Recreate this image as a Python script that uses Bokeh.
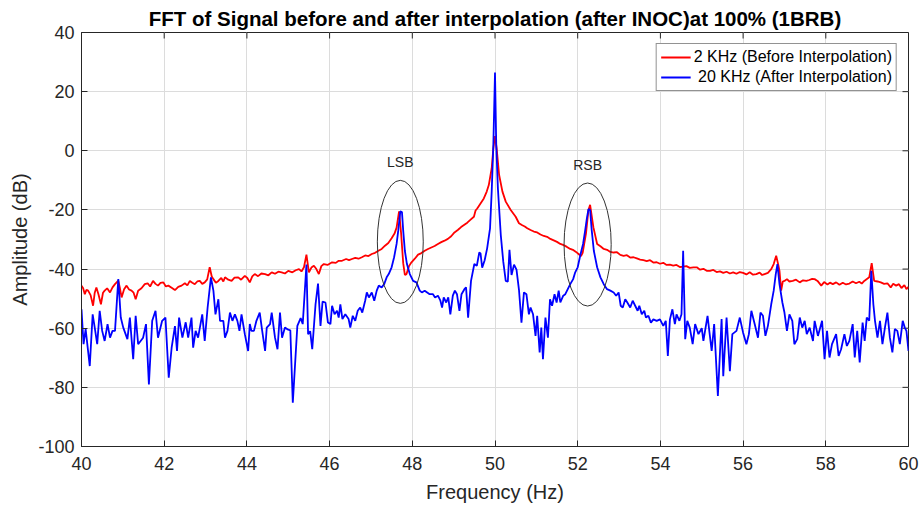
from bokeh.plotting import figure
from bokeh.models import (FixedTicker, LinearAxis, Range1d, Label, Legend, LegendItem)
from bokeh.embed import file_html
from bokeh.resources import INLINE

# ---------------- data ----------------
blue_f = [40.00, 40.05, 40.10, 40.20, 40.27, 40.32, 40.38, 40.44, 40.50, 40.56, 40.63, 40.69, 40.75, 40.81, 40.89,
          40.95, 41.01, 41.11, 41.17, 41.25, 41.31, 41.37, 41.49, 41.56, 41.63, 41.71, 41.79, 41.85, 41.95,
          42.03, 42.11, 42.18, 42.26, 42.31, 42.36, 42.44, 42.52, 42.58, 42.66, 42.70, 42.76, 42.82, 42.92, 42.98,
          43.05, 43.13, 43.19, 43.24, 43.31, 43.35, 43.43, 43.47, 43.53, 43.59, 43.65, 43.71, 43.77, 43.82, 43.87, 43.95,
          44.03, 44.07, 44.11, 44.17, 44.23, 44.31, 44.37, 44.44, 44.48, 44.56, 44.60, 44.68, 44.74, 44.80, 44.85, 44.92,
          45.00, 45.05, 45.11, 45.22, 45.30, 45.35, 45.44, 45.48, 45.53, 45.58, 45.66, 45.72, 45.78, 45.83, 45.90, 45.96,
          46.02, 46.06, 46.12, 46.18, 46.22, 46.26, 46.31, 46.38, 46.46, 46.50, 46.56, 46.62, 46.68, 46.74, 46.79, 46.86,
          46.90, 46.95, 47.02, 47.08, 47.14, 47.19, 47.26, 47.32, 47.38, 47.43, 47.50, 47.56, 47.62, 47.66, 47.71, 47.75,
          47.78, 47.82, 47.87, 47.94, 48.02, 48.10, 48.18, 48.23, 48.30, 48.36, 48.42, 48.50, 48.55, 48.62, 48.68, 48.72,
          48.76, 48.82, 48.87, 48.92, 48.98, 49.03, 49.08, 49.14, 49.19, 49.26, 49.30, 49.35, 49.42, 49.50, 49.56, 49.62,
          49.65, 49.69, 49.75, 49.81, 49.88, 49.92, 49.96, 50.00, 50.03, 50.07, 50.14, 50.20, 50.26, 50.31, 50.35, 50.40,
          50.46, 50.52, 50.58, 50.64, 50.70, 50.76, 50.82, 50.86, 50.92, 50.98, 51.02, 51.08, 51.12, 51.16, 51.22, 51.28,
          51.33, 51.38, 51.44, 51.49, 51.54, 51.58, 51.65, 51.70, 51.76, 51.82, 51.89, 51.94, 52.00, 52.06, 52.13, 52.18,
          52.22, 52.26, 52.30, 52.34, 52.39, 52.47, 52.55, 52.63, 52.71, 52.79, 52.87, 52.93, 52.99, 53.04, 53.09, 53.15,
          53.20, 53.27, 53.33, 53.39, 53.45, 53.49, 53.55, 53.61, 53.65, 53.71, 53.77, 53.83, 53.91, 53.99, 54.07, 54.13,
          54.18, 54.23, 54.29, 54.35, 54.39, 54.46, 54.51, 54.55, 54.60, 54.65, 54.71, 54.78, 54.84, 54.92, 55.00,
          55.04, 55.14, 55.24, 55.30, 55.39, 55.48, 55.52, 55.60, 55.68, 55.74, 55.84, 55.92, 56.00, 56.08, 56.14, 56.20,
          56.28, 56.36, 56.42, 56.48, 56.54, 56.60, 56.68, 56.74, 56.79, 56.83, 56.88, 56.95, 57.00, 57.06, 57.12, 57.19,
          57.24, 57.31, 57.37, 57.43, 57.49, 57.54, 57.61, 57.69, 57.73, 57.81, 57.91, 57.97, 58.03, 58.09, 58.15, 58.25,
          58.31, 58.37, 58.45, 58.51, 58.57, 58.65, 58.70, 58.76, 58.82, 58.89, 58.94, 58.99, 59.05, 59.10, 59.15, 59.19,
          59.25, 59.31, 59.37, 59.43, 59.49, 59.55, 59.61, 59.67, 59.73, 59.79, 59.86, 59.91, 59.95, 60.00]
blue_db = [-53.6, -65.4, -60.3, -72.8, -55.3, -59.8, -65.4, -54.1, -60.9, -64.3, -58.6, -63.2, -60.9, -60.9, -43.4,
           -56.4, -59.8, -63.7, -56.4, -70.5, -55.8, -65.4, -63.2, -58.6, -79.0, -57.5, -54.1, -63.2, -57.5,
           -56.4, -76.7, -66.6, -59.3, -67.7, -56.4, -63.2, -58.0, -63.2, -56.4, -66.6, -60.9, -63.2, -55.3, -64.3,
           -53.0, -42.8, -47.3, -55.3, -50.2, -57.5, -57.5, -63.2, -60.9, -54.7, -57.5, -55.3, -57.5, -60.9, -55.3, -62.0,
           -67.7, -58.6, -60.9, -60.9, -57.5, -54.7, -60.9, -67.7, -59.8, -58.6, -54.7, -63.2, -67.1, -54.7, -63.2, -59.8,
           -60.5, -60.7, -85.2, -59.2, -56.6, -58.6, -38.5, -62.0, -61.0, -67.1, -51.9, -44.9, -59.2, -51.0, -51.3, -58.1,
           -58.6, -52.4, -55.3, -54.1, -56.4, -51.9, -56.9, -55.3, -56.9, -59.8, -55.8, -57.5, -54.1, -53.0, -54.7, -50.7,
           -47.9, -49.6, -47.9, -50.7, -47.3, -45.6, -46.2, -45.1, -42.8, -41.7, -39.4, -36.0, -31.5, -27.0, -20.5, -20.7,
           -27.0, -33.8, -38.3, -41.7, -44.0, -44.5, -47.3, -47.9, -47.3, -47.9, -48.5, -48.5, -49.6, -49.0, -50.7, -53.0,
           -49.6, -51.3, -49.6, -55.3, -49.0, -47.3, -48.5, -54.1, -48.5, -46.8, -46.2, -56.4, -44.0, -38.3, -38.9, -34.4,
           -34.7, -39.5, -37.0, -33.0, -26.2, -13.8, 2.0, 26.5, 2.0, -12.7, -28.5, -37.5, -44.0, -44.3, -33.5, -42.0,
           -38.5, -40.2, -47.0, -58.1, -47.9, -48.5, -55.3, -53.0, -55.3, -62.6, -55.8, -68.2, -59.8, -70.5, -56.4, -63.2,
           -50.2, -52.4, -48.5, -51.3, -47.3, -51.3, -49.0, -48.5, -46.8, -45.1, -43.4, -41.1, -39.4, -35.5, -31.5, -27.0,
           -23.0, -19.7, -20.0, -27.0, -33.8, -39.4, -42.8, -45.1, -46.8, -47.3, -47.9, -49.0, -47.9, -52.4, -53.0, -50.2,
           -51.3, -53.0, -50.7, -52.4, -54.1, -52.4, -55.3, -54.1, -56.4, -55.8, -58.1, -57.0, -57.5, -57.0, -59.2, -57.5,
           -69.4, -57.0, -53.6, -58.6, -55.3, -57.5, -55.3, -33.8, -63.7, -57.5, -59.8, -65.4, -58.6, -62.0, -60.0,
           -64.3, -55.8, -67.7, -58.6, -82.9, -56.9, -76.2, -56.4, -74.5, -62.0, -60.9, -56.4, -61.5, -65.4, -62.0, -54.1,
           -58.6, -63.2, -54.7, -55.8, -62.6, -59.2, -51.9, -47.3, -41.7, -38.3, -45.1, -51.3, -54.7, -60.9, -55.3, -57.5,
           -65.4, -63.7, -56.4, -59.8, -57.5, -62.0, -59.8, -64.3, -57.5, -62.6, -57.5, -70.5, -60.9, -69.9, -65.4, -62.0,
           -69.4, -67.1, -62.0, -66.0, -64.3, -58.6, -69.9, -60.9, -71.6, -58.1, -64.3, -56.4, -57.5, -40.6, -51.9, -57.5,
           -63.2, -57.5, -65.4, -59.8, -54.7, -63.2, -68.2, -60.3, -60.9, -65.4, -57.5, -59.8, -60.9, -67.7]

red_f = [40.00, 40.04, 40.08, 40.12, 40.16, 40.22, 40.28, 40.32, 40.36, 40.41, 40.47, 40.52, 40.56, 40.62, 40.69,
         40.75, 40.81, 40.89, 40.93, 40.97, 41.03, 41.09, 41.15, 41.21, 41.26, 41.31, 41.37, 41.45, 41.53, 41.60,
         41.66, 41.73, 41.79, 41.85, 41.91, 41.98, 42.04, 42.10, 42.18, 42.26, 42.34, 42.42, 42.50, 42.56, 42.62,
         42.68, 42.74, 42.80, 42.86, 42.92, 42.98, 43.04, 43.10, 43.15, 43.19, 43.25, 43.31, 43.38, 43.43, 43.47,
         43.55, 43.63, 43.70, 43.79, 43.86, 43.95, 44.01, 44.07, 44.13, 44.19, 44.27, 44.35, 44.44, 44.52, 44.60,
         44.68, 44.76, 44.84, 44.92, 45.00, 45.10, 45.18, 45.26, 45.32, 45.38, 45.44, 45.50, 45.56, 45.62, 45.68,
         45.74, 45.80, 45.86, 45.95, 46.06, 46.15, 46.22, 46.30, 46.40, 46.47, 46.54, 46.62, 46.70, 46.78, 46.86,
         46.94, 47.02, 47.10, 47.18, 47.26, 47.34, 47.42, 47.50, 47.57, 47.62, 47.68, 47.73, 47.78, 47.82, 47.86,
         47.92, 47.98, 48.06, 48.14, 48.22, 48.30, 48.38, 48.46, 48.54, 48.62, 48.70, 48.78, 48.86, 48.94, 49.02,
         49.10, 49.18, 49.25, 49.33, 49.41, 49.49, 49.53, 49.57, 49.65, 49.73, 49.80, 49.85, 49.92, 49.96, 50.00,
         50.04, 50.10, 50.18, 50.26, 50.38, 50.50, 50.58, 50.66, 50.72, 50.78, 50.86, 50.94, 51.02, 51.10, 51.18,
         51.26, 51.34, 51.42, 51.50, 51.58, 51.66, 51.74, 51.82, 51.90, 51.96, 52.02, 52.08, 52.12, 52.20, 52.26,
         52.30, 52.38, 52.47, 52.55, 52.63, 52.71, 52.79, 52.87, 52.95, 53.03, 53.11, 53.19, 53.27, 53.35, 53.43,
         53.51, 53.59, 53.67, 53.75, 53.83, 53.91, 53.99, 54.07, 54.15, 54.23, 54.31, 54.39, 54.47, 54.55, 54.63,
         54.71, 54.80, 54.88, 54.96, 55.04, 55.12, 55.20, 55.28, 55.36, 55.44, 55.52, 55.60, 55.68, 55.76, 55.84,
         55.92, 56.00, 56.08, 56.16, 56.24, 56.32, 56.40, 56.46, 56.52, 56.60, 56.68, 56.74, 56.80, 56.85, 56.88,
         56.92, 56.96, 57.00, 57.06, 57.12, 57.20, 57.28, 57.37, 57.45, 57.53, 57.60, 57.67, 57.73, 57.80, 57.89,
         57.96, 58.04, 58.10, 58.17, 58.25, 58.33, 58.41, 58.49, 58.57, 58.65, 58.73, 58.81, 58.87, 58.93, 59.05,
         59.11, 59.17, 59.25, 59.33, 59.41, 59.49, 59.57, 59.63, 59.70, 59.77, 59.83, 59.90, 59.95, 60.00]
red_db = [-45.6, -46.5, -48.5, -47.0, -47.3, -48.8, -52.4, -48.0, -46.2, -48.5, -51.9, -48.0, -47.3, -46.5, -47.9,
          -46.2, -45.1, -43.9, -46.5, -49.6, -46.8, -45.6, -46.9, -47.3, -48.0, -50.2, -47.3, -46.5, -45.1, -44.8,
          -45.9, -44.0, -45.0, -45.6, -44.7, -44.5, -45.9, -45.6, -46.3, -47.1, -46.0, -45.6, -44.8, -45.5, -44.0,
          -44.6, -45.1, -44.2, -44.0, -45.0, -44.5, -43.5, -39.4, -42.5, -43.4, -44.6, -44.0, -43.0, -44.2, -42.8,
          -43.6, -44.0, -42.9, -42.8, -43.6, -42.3, -43.0, -44.5, -42.5, -41.7, -42.4, -41.5, -41.7, -42.1, -41.1,
          -41.6, -40.9, -41.1, -41.5, -40.6, -41.1, -40.4, -40.0, -40.8, -39.4, -35.1, -41.1, -39.5, -38.9, -40.0,
          -41.7, -39.0, -38.3, -38.6, -37.7, -37.9, -37.2, -37.2, -36.6, -37.0, -36.6, -36.2, -36.5, -36.0, -35.4,
          -35.6, -34.9, -34.5, -33.8, -33.2, -32.1, -31.2, -29.6, -28.0, -26.0, -20.5, -28.0, -38.0, -42.0, -41.7,
          -39.0, -37.7, -36.5, -35.1, -34.6, -33.8, -33.2, -32.7, -32.2, -31.5, -30.9, -30.4, -29.8, -28.9, -27.6,
          -26.8, -25.8, -25.1, -24.3, -23.3, -22.3, -20.2, -19.5, -17.8, -16.1, -13.8, -11.6, -5.9, 0.8, 5.0,
          0.8, -8.2, -13.8, -17.2, -20.0, -22.3, -24.5, -25.2, -25.6, -26.2, -26.8, -27.3, -27.6, -28.3, -28.8,
          -29.1, -29.8, -30.3, -30.8, -31.5, -31.9, -32.5, -33.2, -33.6, -34.2, -34.9, -35.6, -34.5, -28.0, -20.0,
          -18.3, -25.9, -31.5, -32.3, -33.2, -33.5, -34.2, -34.4, -34.3, -35.2, -35.5, -35.3, -36.1, -36.0, -36.4,
          -36.8, -37.0, -37.3, -37.0, -37.8, -37.7, -38.2, -37.9, -38.6, -38.5, -38.8, -38.6, -39.3, -39.2, -39.0,
          -39.6, -39.4, -39.4, -40.2, -39.9, -40.6, -40.6, -40.3, -41.0, -40.8, -41.3, -40.9, -41.5, -41.1, -41.6,
          -41.0, -41.3, -41.8, -41.1, -41.9, -41.7, -41.2, -42.0, -41.7, -41.3, -40.0, -38.3, -35.5, -38.5, -40.6,
          -47.3, -44.2, -44.0, -43.4, -44.2, -44.0, -43.6, -44.5, -43.8, -44.0, -43.7, -43.3, -43.4, -44.0, -45.6,
          -44.4, -45.2, -44.6, -45.1, -44.5, -45.3, -44.6, -45.2, -44.9, -44.2, -44.8, -44.3, -44.9, -44.0, -42.8,
          -38.0, -44.0, -44.2, -44.5, -45.0, -44.8, -46.2, -45.0, -45.6, -45.1, -46.4, -45.4, -46.8, -46.0]

x_ticks = [40, 42, 44, 46, 48, 50, 52, 54, 56, 58, 60]
y_ticks = [-100, -80, -60, -40, -20, 0, 20, 40]

sideband_names = ["LSB", "RSB"]
sideband_cx = [47.71, 52.24]
sideband_cy = [-30.8, -31.7]
sideband_w = [1.11, 1.14]
sideband_h = [41.6, 41.6]

title_text = "FFT of Signal before and after interpolation (after INOC)at 100% (1BRB)"
label_red = "2 KHz (Before Interpolation)"
label_blue = " 20 KHz (After Interpolation)"

# ---------------- figure ----------------
FONT = "Liberation Sans"
DARK = "#262626"
X0, X1, Y0, Y1 = 40, 60, -100, 40
FRAME_W, FRAME_H = 827, 414
TICK_PX = 6

p = figure(width=924, height=509, output_backend="svg", toolbar_location=None,
           x_range=Range1d(X0, X1), y_range=Range1d(Y0, Y1),
           min_border_left=81, min_border_right=16, min_border_top=32, min_border_bottom=63,
           x_axis_location=None, y_axis_location=None)
p.title.text = title_text
p.title.align = "center"
p.title.text_font = FONT
p.title.text_font_size = "20.5px"
p.title.text_font_style = "bold"
p.title.text_color = "#000000"
p.title.offset = 0
p.title.standoff = 6

p.background_fill_color = "white"
p.border_fill_color = "white"
p.outline_line_color = DARK
p.outline_line_width = 1


def style_axis(ax, ticks):
    ax.ticker = FixedTicker(ticks=ticks)
    ax.major_label_overrides = {t: str(t) for t in ticks}
    ax.axis_line_color = DARK
    ax.major_tick_line_color = DARK
    ax.major_tick_in = TICK_PX
    ax.major_tick_out = 0
    ax.minor_tick_line_color = None
    ax.major_label_text_font = FONT
    ax.major_label_text_color = DARK
    ax.major_label_text_font_size = "18px"
    ax.axis_label_text_font = FONT
    ax.axis_label_text_font_style = "normal"
    ax.axis_label_text_color = DARK
    ax.axis_label_text_font_size = "20px"


xb = LinearAxis(axis_label="Frequency (Hz)")
yl = LinearAxis(axis_label="Amplitude (dB)")
style_axis(xb, x_ticks)
style_axis(yl, y_ticks)
xb.major_label_standoff = 10
xb.axis_label_standoff = 8
yl.major_label_standoff = 7
yl.axis_label_standoff = 4
p.add_layout(xb, "below")
p.add_layout(yl, "left")

# inward ticks on the top and right edges of the box
dx = TICK_PX * (X1 - X0) / FRAME_W
dy = TICK_PX * (Y1 - Y0) / FRAME_H
p.segment(x0=x_ticks, y0=[Y1] * len(x_ticks), x1=x_ticks, y1=[Y1 - dy] * len(x_ticks),
          line_color=DARK, line_width=1)
p.segment(x0=[X1] * len(y_ticks), y0=y_ticks, x1=[X1 - dx] * len(y_ticks), y1=y_ticks,
          line_color=DARK, line_width=1)

p.xgrid.ticker = FixedTicker(ticks=x_ticks)
p.ygrid.ticker = FixedTicker(ticks=y_ticks)
p.xgrid.grid_line_color = "#dcdcdc"
p.ygrid.grid_line_color = "#dcdcdc"

r_red = p.line(red_f, red_db, line_color="#ff0000", line_width=1.8)
r_blue = p.line(blue_f, blue_db, line_color="#0000ff", line_width=1.8)

p.ellipse(x=sideband_cx, y=sideband_cy, width=sideband_w, height=sideband_h,
          fill_color=None, line_color="#333333", line_width=1)

for name, cx, cy, h in zip(sideband_names, sideband_cx, sideband_cy, sideband_h):
    p.add_layout(Label(x=cx, y=cy + h / 2 + 3.5, text=name, text_align="center",
                       text_baseline="bottom", text_font=FONT, text_font_size="14px",
                       text_color=DARK))

legend = Legend(items=[LegendItem(label=label_red, renderers=[r_red]),
                       LegendItem(label=label_blue, renderers=[r_blue])],
                location="top_right")
legend.label_text_font = FONT
legend.label_text_font_size = "16px"
legend.label_text_color = "#000000"
legend.glyph_width = 30
legend.glyph_height = 18
legend.label_height = 18
legend.spacing = 2
legend.padding = 4
legend.margin = 11
legend.label_standoff = 3
legend.border_line_color = DARK
legend.border_line_width = 1
legend.background_fill_alpha = 1
p.add_layout(legend)

open("out.html", "w").write(file_html(p, INLINE))
